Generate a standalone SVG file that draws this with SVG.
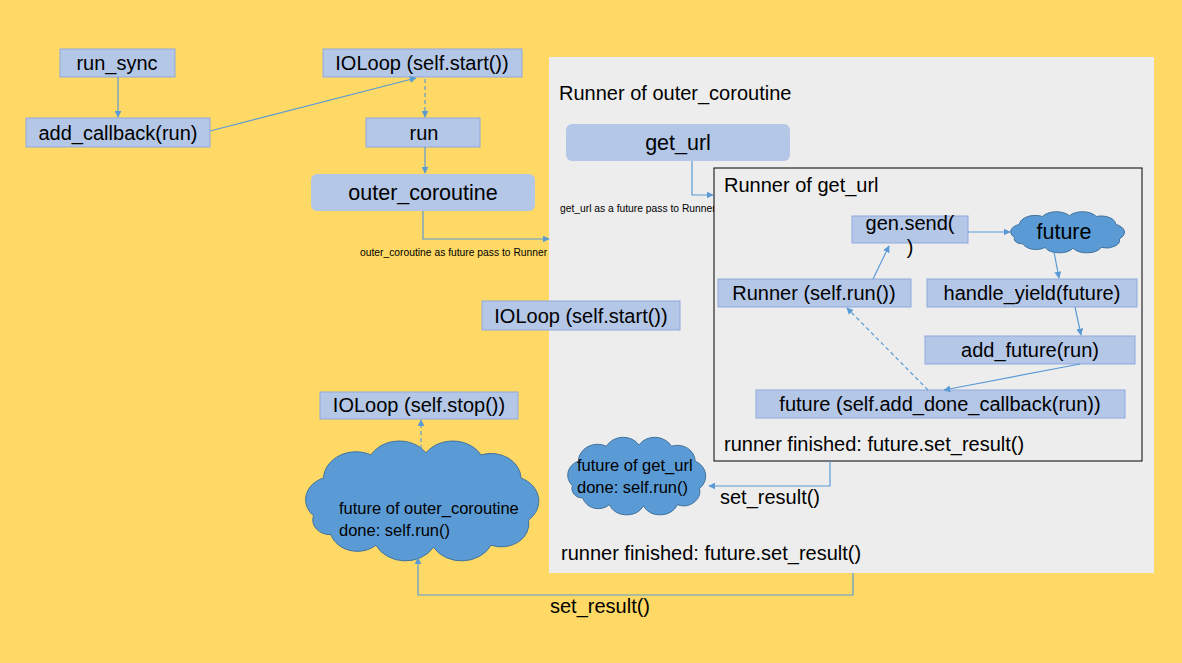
<svg xmlns="http://www.w3.org/2000/svg" xmlns:xlink="http://www.w3.org/1999/xlink" width="1182" height="663" viewBox="0 0 1182 663">
<style>
.bg{fill:#FFD966}
.panel{fill:#EDEDED}
.box{fill:#B4C7E7;stroke:#8FAADC;stroke-width:1}
.rbox{fill:#B4C7E7;stroke:none}
.inner{fill:#EDEDED;stroke:#000;stroke-width:1}
.cloud{fill:#5B9BD5;stroke:#41719C;stroke-width:1}
text{font-family:"Liberation Sans",Arial,sans-serif;fill:#000}
.t{font-size:20px}
.b{font-size:21.5px}
.c{text-anchor:middle}
.s{font-size:10.3px}
.m{font-size:16.5px}
.ln{fill:none;stroke:#5B9BD5;stroke-width:1.2}
.dash{stroke-dasharray:4 3}
</style>
<defs>
<marker id="arr" viewBox="0 0 10 10" refX="9" refY="5" markerWidth="7" markerHeight="7" orient="auto" markerUnits="userSpaceOnUse">
<path d="M0,0 L10,5 L0,10 z" fill="#5B9BD5"/>
</marker>
<path id="cloudshape" vector-effect="non-scaling-stroke" d="M7,38 A11,11 0 0 1 11,20 A13,13 0 0 1 30,9 A13,13 0 0 1 52,8 A13,13 0 0 1 74,9 A12,12 0 0 1 90,20 A12,12 0 0 1 93,40 A11,11 0 0 1 78,52 A13,13 0 0 1 55,53 A13,13 0 0 1 32,52 A11,11 0 0 1 14,47 A7,7 0 0 1 7,38 Z"/>
</defs>
<rect class="bg" x="0" y="0" width="1182" height="663"/>
<rect class="panel" x="549" y="57" width="605" height="516"/>

<g id="run_sync"><rect class="box" x="60" y="49" width="115" height="28"/><text class="t c" x="117" y="70">run_sync</text></g>
<g id="add_callback"><rect class="box" x="26" y="118" width="184" height="29"/><text class="t c" x="118" y="140">add_callback(run)</text></g>
<g id="ioloop_start_top"><rect class="box" x="323" y="49" width="199" height="28"/><text class="t c" x="422" y="70">IOLoop (self.start())</text></g>
<g id="run"><rect class="box" x="366" y="118" width="114" height="29"/><text class="t c" x="424" y="140">run</text></g>
<g id="outer_coroutine"><rect class="rbox" x="311" y="174" width="224" height="37" rx="6"/><text class="b c" x="423" y="200">outer_coroutine</text></g>
<g id="runner_outer_label"><text class="t" x="559" y="100">Runner of outer_coroutine</text></g>
<g id="get_url"><rect class="rbox" x="566" y="124" width="224" height="37" rx="6"/><text class="b c" x="678" y="150">get_url</text></g>
<g id="labels_small"><text class="s" x="560" y="212">get_url as a future pass to Runner</text><text class="s" x="360" y="256">outer_coroutine as future pass to Runner</text></g>
<g id="ioloop_start_mid"><rect class="box" x="482" y="301" width="198" height="29"/><text class="t c" x="581" y="323">IOLoop (self.start())</text></g>
<g id="ioloop_stop"><rect class="box" x="320" y="392" width="198" height="27"/><text class="t c" x="419" y="412">IOLoop (self.stop())</text></g>

<g id="runner_get_url">
<rect class="inner" x="714" y="168" width="428" height="293"/>
<text class="t" x="724" y="192">Runner of get_url</text>
<text class="t" x="724" y="451">runner finished: future.set_result()</text>
</g>
<g id="gen_send"><rect class="box" x="852" y="216" width="116" height="27"/><text class="t c" x="910" y="230">gen.send(</text><text class="t c" x="910" y="254">)</text></g>
<g id="future_cloud"><use xlink:href="#cloudshape" class="cloud" transform="translate(1006,210) scale(1.22,0.72)"/><text class="b c" x="1064" y="239">future</text></g>
<g id="runner_run"><rect class="box" x="718" y="279" width="193" height="28"/><text class="t c" x="814" y="300">Runner (self.run())</text></g>
<g id="handle_yield"><rect class="box" x="927" y="279" width="210" height="28"/><text class="t c" x="1032" y="300">handle_yield(future)</text></g>
<g id="add_future"><rect class="box" x="925" y="336" width="210" height="28"/><text class="t c" x="1030" y="357">add_future(run)</text></g>
<g id="future_done_cb"><rect class="box" x="756" y="390" width="369" height="28"/><text class="t c" x="940" y="411">future (self.add_done_callback(run))</text></g>

<g id="cloud_get_url"><use xlink:href="#cloudshape" class="cloud" transform="translate(562,434) scale(1.48,1.36)"/><text class="m" x="577" y="471">future of get_url</text><text class="m" x="577" y="493">done: self.run()</text></g>
<g id="cloud_outer"><use xlink:href="#cloudshape" class="cloud" transform="translate(296,436) scale(2.5,2.1)"/><text class="m" x="339" y="514">future of outer_coroutine</text><text class="m" x="339" y="536">done: self.run()</text></g>

<g id="runner_outer_finished"><text class="t" x="561" y="560">runner finished: future.set_result()</text></g>
<g id="set_result_labels"><text class="t" x="720" y="504">set_result()</text><text class="t" x="550" y="613">set_result()</text></g>

<g id="connectors">
<path class="ln" marker-end="url(#arr)" d="M118,77 L118,117"/>
<path class="ln" marker-end="url(#arr)" d="M210,131 L416,78"/>
<path class="ln dash" marker-end="url(#arr)" d="M425,79 L425,117"/>
<path class="ln" marker-end="url(#arr)" d="M425,147 L425,173"/>
<path class="ln" marker-end="url(#arr)" d="M423,211 L423,239 L549,239"/>
<path class="ln" marker-end="url(#arr)" d="M692,161 L692,195 L713,195"/>
<path class="ln" marker-end="url(#arr)" d="M968,232 L1010,232"/>
<path class="ln" marker-end="url(#arr)" d="M1054,252 L1059,278"/>
<path class="ln" marker-end="url(#arr)" d="M1075,307 L1081,335"/>
<path class="ln" marker-end="url(#arr)" d="M1080,364 L944,390"/>
<path class="ln dash" marker-end="url(#arr)" d="M928,390 L847,308"/>
<path class="ln" marker-end="url(#arr)" d="M873,279 L889,246"/>
<path class="ln" marker-end="url(#arr)" d="M830,461 L830,486 L709,486"/>
<path class="ln dash" marker-end="url(#arr)" d="M421,463 L421,420"/>
<path class="ln" marker-end="url(#arr)" d="M853,573 L853,595 L418,595 L418,558"/>
</g>
</svg>
